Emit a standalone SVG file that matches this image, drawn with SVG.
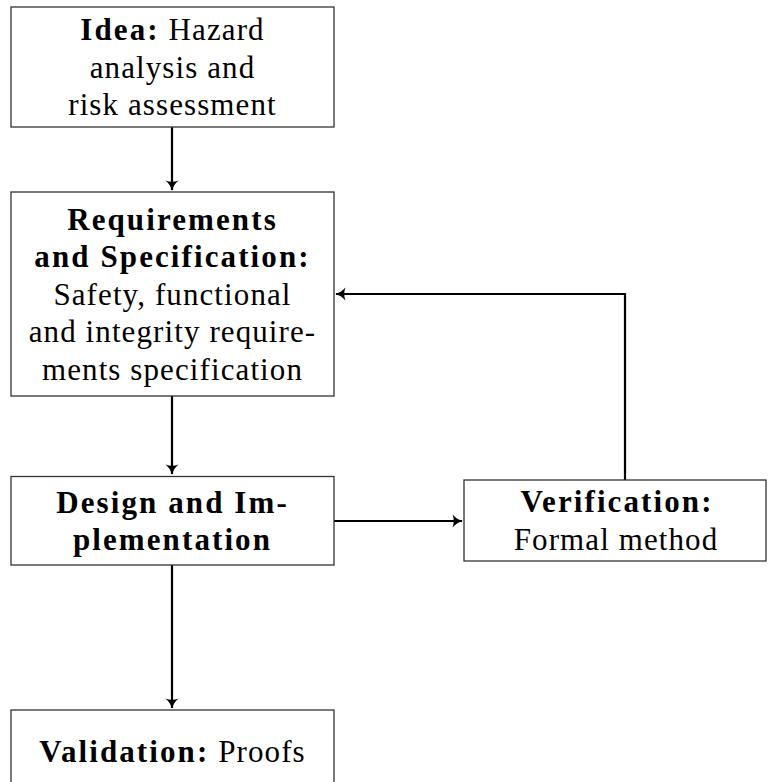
<svg xmlns="http://www.w3.org/2000/svg" width="774" height="782" viewBox="0 0 774 782">
<defs>
<marker id="arr" markerUnits="userSpaceOnUse" markerWidth="16" markerHeight="16" viewBox="-12 -8 14 16" refX="0" refY="0" orient="auto">
<path d="M0.8,0 C-3,-1 -6.5,-3 -9.5,-6.5 C-7.8,-2.5 -7.8,2.5 -9.5,6.5 C-6.5,3 -3,1 0.8,0 Z" fill="#000"/>
</marker>
</defs>
<style>
.box{fill:#fff;stroke:#333;stroke-width:1.3}
.t{font-family:"Liberation Serif","Times New Roman",serif;font-size:31px;fill:#000;text-anchor:middle;letter-spacing:1.1px}
.b{font-weight:bold;letter-spacing:2.1px}
.c{fill:none;stroke:#000;stroke-width:2.2}
</style>
<g id="connectors">
<path class="c" d="M172,127 V190" marker-end="url(#arr)"/>
<path class="c" d="M172,396 V474" marker-end="url(#arr)"/>
<path class="c" d="M172,565 V708" marker-end="url(#arr)"/>
<path class="c" d="M334,521 H462" marker-end="url(#arr)"/>
<path class="c" d="M625,480 V294 H336" marker-end="url(#arr)"/>
</g>
<g id="idea">
<rect class="box" x="11" y="7" width="323" height="120"/>
<text class="t" x="172.5" y="40"><tspan class="b">Idea:</tspan> Hazard</text>
<text class="t" x="172.5" y="77.5">analysis and</text>
<text class="t" x="172.5" y="115">risk assessment</text>
</g>
<g id="requirements">
<rect class="box" x="11" y="192" width="323" height="204"/>
<text class="t b" x="172.5" y="229.5">Requirements</text>
<text class="t b" x="172.5" y="267">and Specification:</text>
<text class="t" x="172.5" y="304.5">Safety, functional</text>
<text class="t" x="172.5" y="342">and integrity require-</text>
<text class="t" x="172.5" y="379.5">ments specification</text>
</g>
<g id="design">
<rect class="box" x="11" y="476.5" width="323" height="88.5"/>
<text class="t b" x="172.5" y="512.5">Design and Im-</text>
<text class="t b" x="172.5" y="550">plementation</text>
</g>
<g id="verification">
<rect class="box" x="464" y="480" width="302" height="81"/>
<text class="t b" x="617" y="512">Verification:</text>
<text class="t" x="616" y="549.5">Formal method</text>
</g>
<g id="validation">
<rect class="box" x="11" y="710" width="323" height="100"/>
<text class="t" x="172.5" y="762"><tspan class="b">Validation:</tspan> Proofs</text>
</g>
</svg>
